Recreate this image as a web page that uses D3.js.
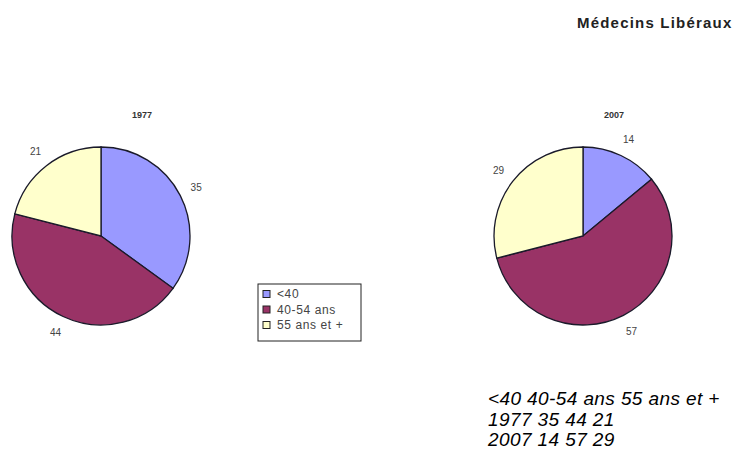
<!DOCTYPE html>
<html>
<head>
<meta charset="utf-8">
<script src="https://cdn.jsdelivr.net/npm/d3@7"></script>
<style>
  body { margin: 0; background: #fff; }
  svg { display: block; }
</style>
</head>
<body>
<div id="chart"></div>
<script>
// data
let categories = ["<40", "40-54 ans", "55 ans et +"]
let years = ["1977", "2007"]
let values1977 = [35, 44, 21]
let values2007 = [14, 57, 29]
let colors = ["#9999ff", "#993366", "#ffffcc"]

let w = 740
let h = 452
let r = 89

let svg = d3.select("#chart").append("svg")
    .attr("width", w)
    .attr("height", h)

let color = d3.scaleOrdinal().domain(categories).range(colors)

let pie = d3.pie().sort(null).value(function (d) { return d.v })
let arc = d3.arc().innerRadius(0).outerRadius(r)
let labelArc = d3.arc().innerRadius(r * 1.2).outerRadius(r * 1.2)

// main title
svg.append("text")
    .attr("x", 577)
    .attr("y", 28)
    .attr("font-family", "Liberation Sans, Arial, sans-serif")
    .attr("font-weight", "bold")
    .attr("font-size", "15px")
    .attr("letter-spacing", "1.2px")
    .attr("fill", "#222")
    .text("Médecins Libéraux")

let pies = [
  { year: years[0], values: values1977, cx: 101, cy: 236, tx: 142 },
  { year: years[1], values: values2007, cx: 583, cy: 236, tx: 614 }
]

pies.forEach(function (p) {
  let data = categories.map(function (c, i) { return { c: c, v: p.values[i] } })
  let g = svg.append("g").attr("transform", "translate(" + p.cx + "," + p.cy + ")")

  g.selectAll("path")
      .data(pie(data))
      .enter()
      .append("path")
      .attr("d", arc)
      .attr("fill", function (d) { return color(d.data.c) })
      .attr("stroke", "#1a1a2a")
      .attr("stroke-width", 1.3)

  g.selectAll("text.val")
      .data(pie(data))
      .enter()
      .append("text")
      .attr("class", "val")
      .attr("transform", function (d) { return "translate(" + labelArc.centroid(d) + ")" })
      .attr("text-anchor", "middle")
      .attr("dy", "0.35em")
      .attr("font-family", "Liberation Sans, Arial, sans-serif")
      .attr("font-size", "10px")
      .attr("fill", "#444")
      .text(function (d) { return d.data.v })

  svg.append("text")
      .attr("x", p.tx)
      .attr("y", 118)
      .attr("text-anchor", "middle")
      .attr("font-family", "Liberation Sans, Arial, sans-serif")
      .attr("font-weight", "bold")
      .attr("font-size", "9px")
      .attr("fill", "#333")
      .text(p.year)
})

// legend
let leg = svg.append("g").attr("transform", "translate(258,284)")
leg.append("rect")
    .attr("width", 103)
    .attr("height", 57)
    .attr("fill", "#fff")
    .attr("stroke", "#222")
    .attr("stroke-width", 1)

let items = leg.selectAll("g.item")
    .data(categories)
    .enter()
    .append("g")
    .attr("class", "item")
    .attr("transform", function (d, i) { return "translate(5," + (10 + i * 15.5) + ")" })

items.append("rect")
    .attr("x", 0)
    .attr("y", -3.5)
    .attr("width", 7)
    .attr("height", 7)
    .attr("fill", function (d) { return color(d) })
    .attr("stroke", "#222")

items.append("text")
    .attr("x", 14)
    .attr("dy", "0.35em")
    .attr("font-family", "Liberation Sans, Arial, sans-serif")
    .attr("font-size", "12px")
    .attr("letter-spacing", "0.6px")
    .attr("fill", "#444")
    .text(function (d) { return d })

// data table in text
let lines = [
  categories.join(" "),
  years[0] + " " + values1977.join(" "),
  years[1] + " " + values2007.join(" ")
]
svg.selectAll("text.tbl")
    .data(lines)
    .enter()
    .append("text")
    .attr("class", "tbl")
    .attr("x", 488)
    .attr("y", function (d, i) { return 405 + i * 20.5 })
    .attr("font-family", "Liberation Sans, Arial, sans-serif")
    .attr("font-style", "italic")
    .attr("font-size", "19px")
    .attr("letter-spacing", "0.4px")
    .attr("fill", "#000")
    .text(function (d) { return d })
</script>
</body>
</html>
